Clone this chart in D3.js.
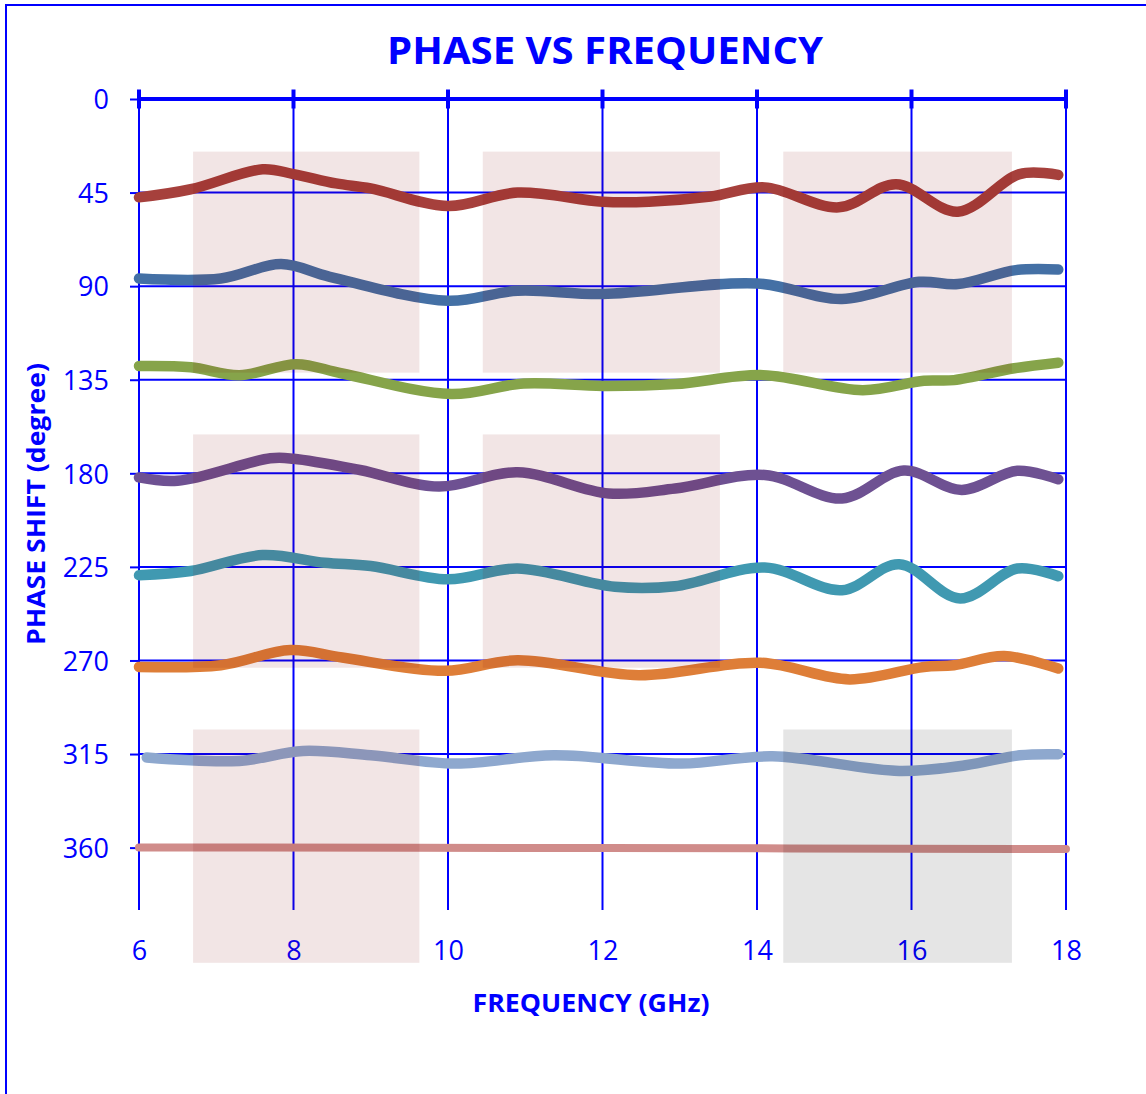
<!DOCTYPE html>
<html>
<head>
<meta charset="utf-8">
<script src="https://cdn.jsdelivr.net/npm/d3@7"></script>
<style>
  body { margin: 0; background: #fff; }
  svg { display: block; font-family: "Open Sans", sans-serif; }
</style>
</head>
<body>
<svg id="chart" width="1146" height="1094"></svg>
<script>
// tick values
const freqTicks = [6, 8, 10, 12, 14, 16, 18];
const phaseTicks = [0, 45, 90, 135, 180, 225, 270, 315, 360];

// measured curves, [GHz, degree]
const s45 = [[6, 47.3], [6.67, 43.4], [7.6, 33.8], [8, 36.1], [8.55, 40.6], [9, 43], [10, 51.5], [10.9, 45],
  [12, 49.4], [12.6, 49.4], [13.4, 46.9], [14.1, 42.5], [15.06, 52.1], [15.8, 41], [16.6, 54.2], [17.4, 36.1], [17.9, 36.5]];
const s90 = [[6, 86.3], [7.06, 86.3], [7.84, 79.4], [8.47, 85.5], [10, 97], [10.9, 92.2], [12, 93.8], [14, 88.7],
  [15.1, 96.2], [16.1, 87.9], [16.6, 89], [17.35, 82.3], [17.9, 82]];
const s135 = [[6, 128.4], [6.67, 129], [7.3, 132.8], [8.04, 127.5], [8.63, 132], [10.04, 141.9], [10.98, 136.8],
  [12, 138], [12.94, 137.1], [14.08, 132.8], [15.37, 140], [16.16, 135.5], [16.55, 135.2], [17.33, 129.5], [17.9, 126.8]];
const s180 = [[6, 182], [6.5, 183.6], [7.7, 172.8], [8, 173], [8.86, 178.4], [9.88, 186.4], [10.9, 179.5],
  [12.08, 189.7], [12.94, 187.3], [14.1, 180.8], [15.1, 192.1], [15.9, 178.7], [16.65, 188], [17.37, 178.8], [17.9, 182.9]];
const s225 = [[6, 229], [6.67, 227], [7.6, 219.3], [8.4, 223], [9, 224.6], [10, 231], [10.9, 225.8], [12.16, 234.6],
  [12.94, 234.3], [14.1, 225.3], [15.1, 236.2], [15.84, 223.7], [16.63, 240.2], [17.37, 225.8], [17.9, 229.5]];
const s270 = [[6, 273.1], [7.06, 272.3], [7.96, 265], [8.63, 268.6], [9.96, 275], [10.9, 269.9], [12.47, 277.1],
  [14.04, 271.1], [15.2, 279.1], [16.16, 273.1], [16.55, 272.3], [17.2, 267.9], [17.9, 273.9]];
const s315 = [[6.1, 316.7], [7.3, 318.3], [8.12, 313.5], [9, 315.6], [10.1, 319.6], [11.37, 315.6], [13.02, 319.6],
  [14.2, 316.1], [15.84, 323.1], [16.7, 320.4], [17.4, 315.6], [17.9, 315.1]];
const s360 = [[6, 359.9], [12, 360.2], [18, 360.7]];

const seriesData = [s45, s90, s135, s180, s225, s270, s315, s360];
const seriesColors = ["#a6403c", "#4470a5", "#86a44a", "#6e5192", "#4099b1", "#de7e38", "#8ea8ce", "#d08c8a"];

// shaded blocks: frequency spans, phase spans, and which block sits where
const bandFreq = [[6.7, 9.63], [10.45, 13.52], [14.34, 17.3]];
const bandPhase = [[25.3, 131.6], [161.3, 273.5], [303.2, 415.4]];
const bandCells = [[0, 0, "pink"], [1, 0, "pink"], [2, 0, "pink"], [0, 1, "pink"], [1, 1, "pink"], [0, 2, "pink"], [2, 2, "gray"]];

const blue = "#0000ff";
const svg = d3.select("#chart");

const x = d3.scaleLinear().domain([6, 18]).range([139, 1066]);
const y = d3.scaleLinear().domain([0, 390]).range([99, 910]);

// outer frame
svg.append("rect")
  .attr("x", 6).attr("y", 5).attr("width", 1400).attr("height", 1400)
  .attr("fill", "none").attr("stroke", blue).attr("stroke-width", 2);

// title
svg.append("text")
  .attr("x", 605).attr("y", 64)
  .attr("text-anchor", "middle")
  .attr("font-size", 38).attr("font-weight", "bold")
  .attr("fill", blue)
  .attr("textLength", 436).attr("lengthAdjust", "spacingAndGlyphs")
  .text("PHASE VS FREQUENCY");

// grid
svg.append("g").selectAll("line")
  .data(freqTicks)
  .enter().append("line")
  .attr("x1", d => x(d)).attr("x2", d => x(d))
  .attr("y1", y(0)).attr("y2", y(390))
  .attr("stroke", blue).attr("stroke-width", 2);

svg.append("g").selectAll("line")
  .data(phaseTicks.slice(1))
  .enter().append("line")
  .attr("x1", x(6)).attr("x2", x(18))
  .attr("y1", d => y(d)).attr("y2", d => y(d))
  .attr("stroke", blue).attr("stroke-width", 2);

// left axis labels + small ticks
const yAxis = svg.append("g")
  .attr("transform", `translate(${x(6)},0)`)
  .call(d3.axisLeft(y).tickValues(phaseTicks).tickSize(9).tickPadding(21));
yAxis.select(".domain").remove();
yAxis.selectAll("line").attr("stroke", blue).attr("stroke-width", 2);
yAxis.selectAll("text").attr("fill", blue).attr("font-size", 27).attr("dy", "0.36em")
  .style("font-family", "'Open Sans', sans-serif");

// bottom labels
const xAxis = svg.append("g")
  .attr("transform", `translate(0,${y(390)})`)
  .call(d3.axisBottom(x).tickValues(freqTicks).tickSize(0).tickPadding(31));
xAxis.select(".domain").remove();
xAxis.selectAll("text").attr("fill", blue).attr("font-size", 27)
  .style("font-family", "'Open Sans', sans-serif");

// thick top axis with crossing ticks
svg.append("line")
  .attr("x1", x(6)).attr("x2", x(18))
  .attr("y1", y(0)).attr("y2", y(0))
  .attr("stroke", blue).attr("stroke-width", 4);
svg.append("g").selectAll("line")
  .data(freqTicks)
  .enter().append("line")
  .attr("x1", d => x(d)).attr("x2", d => x(d))
  .attr("y1", y(0) - 9.5).attr("y2", y(0) + 9.5)
  .attr("stroke", blue).attr("stroke-width", 4);

// curves
const line = d3.line()
  .x(d => x(d[0]))
  .y(d => y(d[1]))
  .curve(d3.curveCatmullRom.alpha(0.5));

svg.append("g").selectAll("path")
  .data(seriesData)
  .enter().append("path")
  .attr("d", line)
  .attr("fill", "none")
  .attr("stroke", (d, i) => seriesColors[i])
  .attr("stroke-width", (d, i) => i === 7 ? 8 : 10.5)
  .attr("stroke-linecap", "round")
  .attr("stroke-linejoin", "round");

// shaded blocks laid over everything
svg.append("g").selectAll("rect")
  .data(bandCells)
  .enter().append("rect")
  .attr("x", d => x(bandFreq[d[0]][0]))
  .attr("width", d => x(bandFreq[d[0]][1]) - x(bandFreq[d[0]][0]))
  .attr("y", d => y(bandPhase[d[1]][0]))
  .attr("height", d => y(bandPhase[d[1]][1]) - y(bandPhase[d[1]][0]))
  .attr("fill", d => d[2] === "gray" ? "#000000" : "#800000")
  .attr("fill-opacity", 0.1);

// axis titles
svg.append("text")
  .attr("x", 591).attr("y", 1012)
  .attr("text-anchor", "middle")
  .attr("font-size", 25).attr("font-weight", "bold")
  .attr("fill", blue)
  .attr("textLength", 237).attr("lengthAdjust", "spacingAndGlyphs")
  .text("FREQUENCY (GHz)");

svg.append("text")
  .attr("transform", "translate(45,504) rotate(-90)")
  .attr("text-anchor", "middle")
  .attr("font-size", 25).attr("font-weight", "bold")
  .attr("fill", blue)
  .attr("textLength", 282).attr("lengthAdjust", "spacingAndGlyphs")
  .text("PHASE SHIFT (degree)");
</script>
</body>
</html>
